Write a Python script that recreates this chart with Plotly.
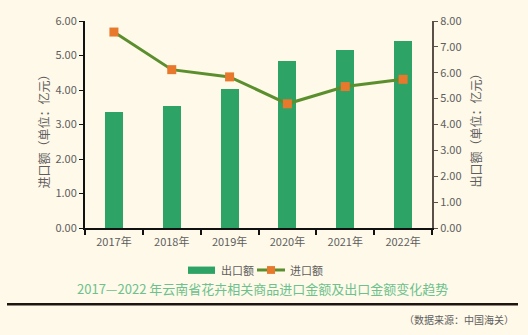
import plotly.graph_objects as go

years = ["2017年", "2018年", "2019年", "2020年", "2021年", "2022年"]
export_vals = [4.50, 4.72, 5.37, 6.45, 6.88, 7.23]   # 出口额, right axis
import_vals = [5.68, 4.59, 4.38, 3.60, 4.10, 4.31]   # 进口额, left axis
left_ticks = [0, 1, 2, 3, 4, 5, 6]
right_ticks = [0, 1, 2, 3, 4, 5, 6, 7, 8]

BG = "#fef9e9"
FONT = "Noto Sans CJK SC"
GRAY = "#5e5e5e"
BAR_C = "#2ea366"
LINE_C = "#5b8f2d"
MARK_C = "#e8782c"

fig = go.Figure()
fig.add_trace(go.Bar(
    x=years, y=export_vals, name="出口额", yaxis="y",
    marker=dict(color=BAR_C, line=dict(width=0)), width=0.31,
))
fig.add_trace(go.Scatter(
    x=years, y=import_vals, name="进口额", yaxis="y2", mode="lines+markers",
    line=dict(color=LINE_C, width=3),
    marker=dict(symbol="square", size=9, color=MARK_C),
))

L, R, T, B = 85, 96, 16, 107
W, H = 528, 335
pw, ph = W - L - R, H - T - B

def px_x(x):
    return (x - L) / pw

def px_y(y):
    return (H - B - y) / ph

fig.update_layout(
    width=W, height=H,
    margin=dict(l=L, r=R, t=T, b=B),
    paper_bgcolor=BG, plot_bgcolor=BG,
    font=dict(family=FONT, color=GRAY, size=11),
    showlegend=False,
    bargap=0.0,
    xaxis=dict(
        showline=True, linecolor="#111111", linewidth=2,
        ticks="outside", ticklen=5, tickcolor="#111111", tickwidth=1.5,
        tickson="boundaries", showgrid=False, ticklabelstandoff=3,
        tickfont=dict(size=11, color=GRAY), zeroline=False,
    ),
    yaxis=dict(
        side="right", range=[0, 8], tickvals=right_ticks,
        ticktext=[f"{v:.2f}" for v in right_ticks],
        showline=True, linecolor="#5a5048", linewidth=2,
        ticks="outside", ticklen=4, tickcolor="#5a5048",
        showgrid=False, zeroline=False, tickfont=dict(size=11, color=GRAY),
    ),
    yaxis2=dict(
        side="left", overlaying="y", range=[0, 6], tickvals=left_ticks,
        ticktext=[f"{v:.2f}" for v in left_ticks],
        showline=True, linecolor="#111111", linewidth=2,
        ticks="outside", ticklen=4, tickcolor="#111111",
        showgrid=False, zeroline=False, tickfont=dict(size=11, color=GRAY),
    ),
)

annotations = [
    dict(text="进口额（单位：亿元）", x=px_x(43), y=px_y(126), textangle=-90,
         font=dict(size=12, color=GRAY)),
    dict(text="出口额（单位：亿元）", x=px_x(475), y=px_y(125), textangle=-90,
         font=dict(size=12, color=GRAY)),
    dict(text="2017—2022 年云南省花卉相关商品进口金额及出口金额变化趋势",
         x=px_x(262), y=px_y(290), font=dict(size=13, color="#6cc18c")),
    dict(text="（数据来源：中国海关）", x=px_x(516), y=px_y(322), xanchor="right",
         font=dict(size=10, color=GRAY)),
    # manual legend labels
    dict(text="出口额", x=px_x(219), y=px_y(271), xanchor="left",
         font=dict(size=11, color=GRAY)),
    dict(text="进口额", x=px_x(288), y=px_y(271), xanchor="left",
         font=dict(size=11, color=GRAY)),
]
for a in annotations:
    a.setdefault("xanchor", "center")
    a.update(xref="paper", yref="paper", yanchor="middle", showarrow=False)
fig.update_layout(annotations=annotations)

# manual legend symbols
fig.add_shape(type="rect", xref="paper", yref="paper",
              x0=px_x(188), x1=px_x(215), y0=px_y(267.5), y1=px_y(275),
              fillcolor=BAR_C, line=dict(width=0))
fig.add_shape(type="line", xref="paper", yref="paper",
              x0=px_x(257), x1=px_x(285), y0=px_y(271), y1=px_y(271),
              line=dict(color=LINE_C, width=3))
fig.add_shape(type="rect", xref="paper", yref="paper",
              x0=px_x(267), x1=px_x(275), y0=px_y(267), y1=px_y(275),
              fillcolor=MARK_C, line=dict(width=0))

fig.add_shape(type="line", xref="paper", yref="paper",
              x0=px_x(7), x1=px_x(518), y0=px_y(306), y1=px_y(306),
              line=dict(color="#1e1410", width=2.5))

fig.write_html("out.html")
